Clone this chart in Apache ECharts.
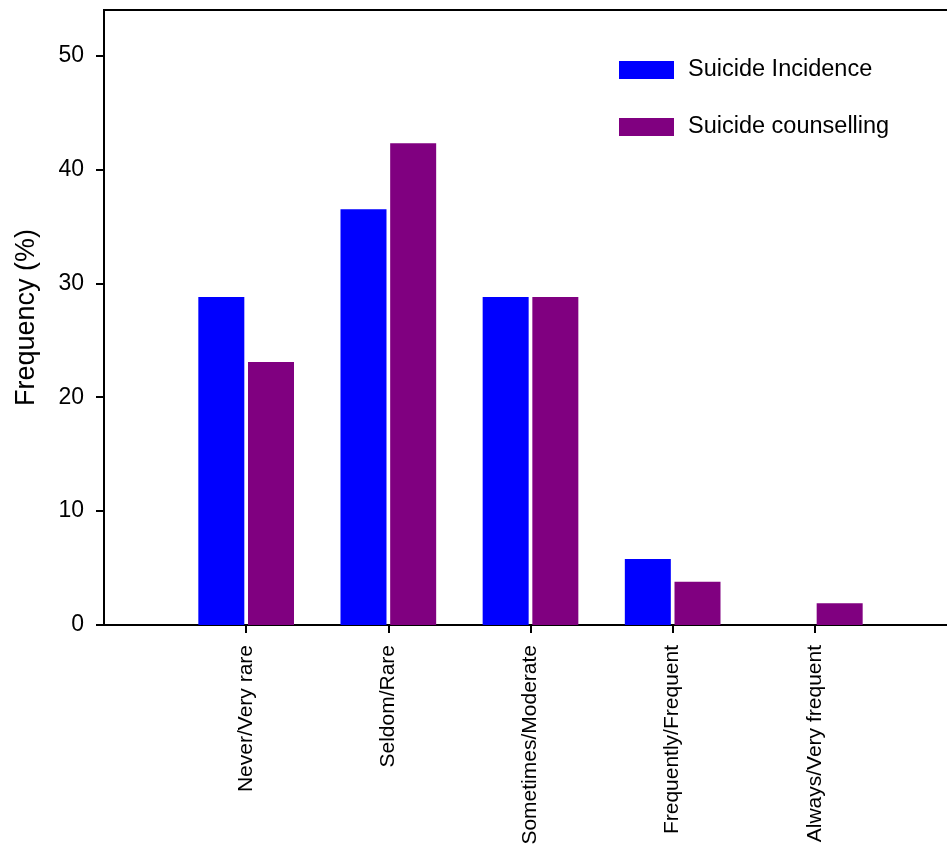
<!DOCTYPE html>
<html>
<head>
<meta charset="utf-8">
<script src="https://cdn.jsdelivr.net/npm/echarts@6/dist/echarts.min.js"></script>
<style>
  html, body { margin: 0; padding: 0; background: #ffffff; }
  #chart { width: 947px; height: 845px; }
</style>
</head>
<body>
<div id="chart"></div>
<script>
const categories = ['Never/Very rare', 'Seldom/Rare', 'Sometimes/Moderate', 'Frequently/Frequent', 'Always/Very frequent'];
const incidence = [28.8, 36.5, 28.8, 5.8, 0];
const counselling = [23.1, 42.3, 28.8, 3.8, 1.9];
const yTicks = [0, 10, 20, 30, 40, 50];
const seriesNames = ['Suicide Incidence', 'Suicide counselling'];

const FONT = '"Liberation Sans", Arial, Helvetica, sans-serif';
const catPositions = categories.map((c, i) => i + 1);

const chart = echarts.init(document.getElementById('chart'), null, { renderer: 'canvas' });
chart.setOption({
  animation: false,
  backgroundColor: '#ffffff',
  textStyle: { fontFamily: FONT, color: '#000' },
  grid: {
    left: 104, top: 10, width: 853, height: 615,
    outerBoundsMode: 'none', containLabel: false,
    show: true, borderColor: '#000', borderWidth: 2, backgroundColor: 'transparent'
  },
  legend: {
    orient: 'vertical',
    left: 619, top: 58, padding: 0,
    itemWidth: 55, itemHeight: 18, itemGap: 33,
    selectedMode: false,
    icon: 'rect',
    textStyle: { fontFamily: FONT, fontSize: 23.5, color: '#000', padding: [0, 0, 0, 9] },
    data: seriesNames
  },
  xAxis: {
    type: 'value', min: 0, max: 6,
    splitLine: { show: false },
    axisLine: { onZero: false, lineStyle: { color: '#000', width: 2 } },
    axisTick: { show: true, length: 8, customValues: catPositions, lineStyle: { color: '#000', width: 2 } },
    axisLabel: {
      customValues: catPositions,
      formatter: v => categories[Math.round(v) - 1] || '',
      rotate: 90, margin: 20, fontSize: 21, fontFamily: FONT, color: '#000'
    }
  },
  yAxis: {
    type: 'value', min: 0, max: 54, interval: 10,
    name: 'Frequency (%)', nameLocation: 'middle', nameGap: 64, nameRotate: 90,
    nameTextStyle: { fontSize: 27, fontFamily: FONT, color: '#000' },
    splitLine: { show: false },
    axisLine: { show: true, lineStyle: { color: '#000', width: 2 } },
    axisTick: { show: true, length: 8, customValues: yTicks, lineStyle: { color: '#000', width: 2 } },
    axisLabel: { customValues: yTicks, margin: 20, fontSize: 23, fontFamily: FONT, color: '#000' }
  },
  series: [
    {
      name: seriesNames[0], type: 'bar',
      barWidth: 46, barGap: '8%',
      itemStyle: { color: '#0000ff' },
      data: categories.map((c, i) => [i + 1, incidence[i]])
    },
    {
      name: seriesNames[1], type: 'bar',
      barWidth: 46, barGap: '8%',
      itemStyle: { color: '#800080' },
      data: categories.map((c, i) => [i + 1, counselling[i]])
    }
  ]
});
</script>
</body>
</html>
